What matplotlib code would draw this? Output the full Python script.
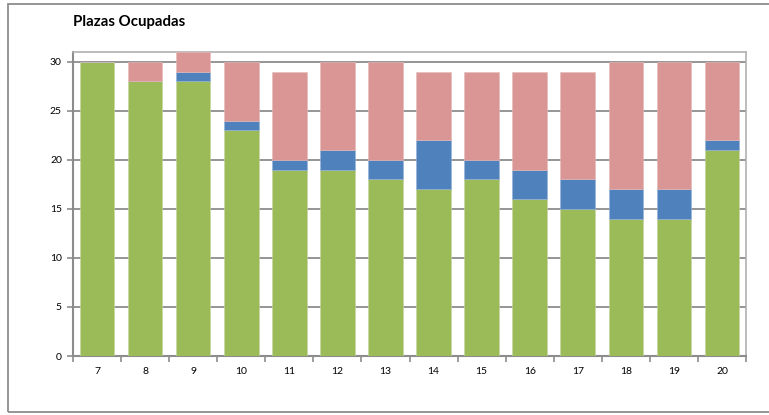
import matplotlib
matplotlib.use("Agg")
import matplotlib.pyplot as plt
from matplotlib.patches import Rectangle
import numpy as np

categories = ["7", "8", "9", "10", "11", "12", "13", "14", "15", "16", "17", "18", "19", "20"]
green = [30, 28, 28, 23, 19, 19, 18, 17, 18, 16, 15, 14, 14, 21]
blue = [0, 0, 1, 1, 1, 2, 2, 5, 2, 3, 3, 3, 3, 1]
pink = [0, 2, 2, 6, 9, 9, 10, 7, 9, 10, 11, 13, 13, 8]
title = "Plazas Ocupadas"

plt.rcParams['font.family'] = ['Lato', 'DejaVu Sans']

fig = plt.figure(figsize=(7.69, 4.15), dpi=100)
ax = fig.add_axes([73/769, 1-356/415, (746-73)/769, (356-52)/415])

x = np.arange(len(categories))
g = np.array(green); b = np.array(blue); p = np.array(pink)
w = 0.72
ax.bar(x, g, w, color='#9BBB59', edgecolor='#c4d6a0', linewidth=0.4, zorder=3)
ax.bar(x, b, w, bottom=g, color='#4F81BD', edgecolor='#95b3d7', linewidth=0.4, zorder=3)
ax.bar(x, p, w, bottom=g+b, color='#DA9694', edgecolor='#e6b9b8', linewidth=0.4, zorder=3)

ax.set_xlim(-0.5, len(categories)-0.5)
ax.set_ylim(0, 31)
ax.set_yticks(range(0, 31, 5))
ax.yaxis.grid(True, color='#8c8c8c', linewidth=1.3, zorder=0)
ax.set_axisbelow(True)
ax.set_xticks(x)
ax.set_xticklabels(categories)
ax.set_xticks(np.arange(-0.5, len(categories), 1), minor=True)
ax.tick_params(axis='x', which='major', length=0, pad=8, labelsize=7.5)
ax.tick_params(axis='x', which='minor', length=4, width=1.2, color='#8c8c8c', direction='out')
ax.tick_params(axis='y', length=4, width=1.2, color='#8c8c8c', labelsize=7.5, pad=4)
for side in ['left', 'bottom']:
    ax.spines[side].set_color('#8c8c8c')
    ax.spines[side].set_linewidth(1.5)
for side in ['top', 'right']:
    ax.spines[side].set_color('#b0b0b0')
    ax.spines[side].set_linewidth(1.2)

fig.text(73/769, 1-22/415, title, fontsize=10.8, fontweight='bold', va='center', ha='left')

fig.patches.append(Rectangle((8/769, 3/415), 1.2, (412-4)/415, transform=fig.transFigure,
                             fill=False, edgecolor='#8c8c8c', linewidth=1.3))

fig.savefig("out.png", dpi=100)
